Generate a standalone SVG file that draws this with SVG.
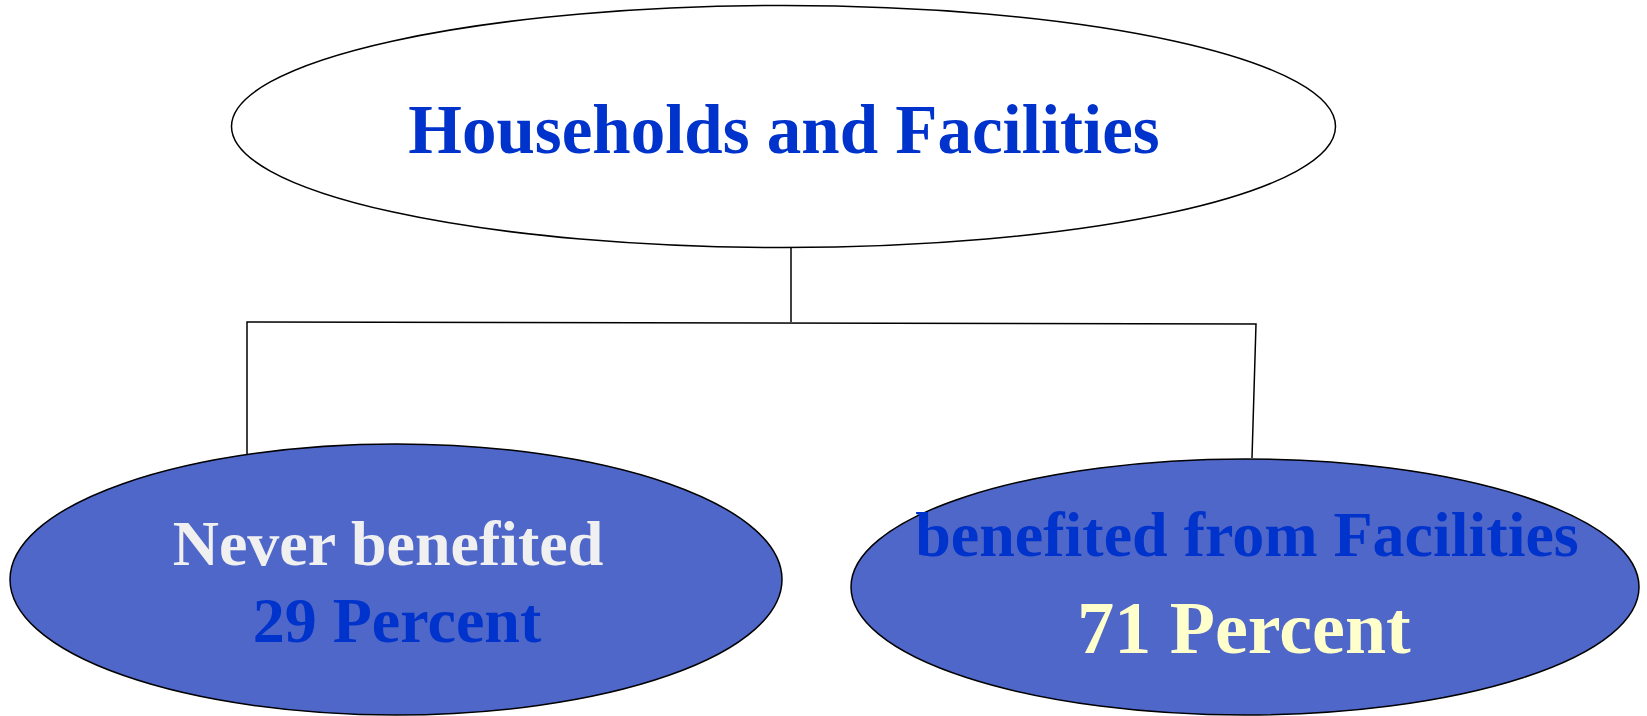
<svg xmlns="http://www.w3.org/2000/svg" width="1647" height="716" viewBox="0 0 1647 716">
  <style>
    .node { stroke: #000000; stroke-width: 1.5; }
    .root { fill: #FFFFFF; }
    .leaf { fill: #4F67C8; }
    .label { font-family: "Liberation Serif", "Times New Roman", serif; font-weight: bold; text-anchor: middle; }
    .blue { fill: #0033CC; }
    .white { fill: #F0F0F0; }
    .cream { fill: #FFFFCC; }
    .link { fill: none; stroke: #000000; stroke-width: 1.5; }
  </style>
  <rect width="1647" height="716" fill="#FFFFFF"/>

  <!-- tree connectors -->
  <g id="connectors">
    <polyline class="link" points="791,248 791,322"/>
    <polyline class="link" points="247,458 247,322 1256,324 1252,458"/>
  </g>

  <g id="node-households">
    <ellipse class="node root" cx="783.5" cy="126.5" rx="552" ry="121"/>
    <text class="label blue" x="784" y="153" font-size="69">Households and Facilities</text>
  </g>

  <g id="node-never">
    <ellipse class="node leaf" cx="396" cy="579.5" rx="386" ry="135.5"/>
    <text class="label white" x="388" y="565" font-size="64">Never benefited</text>
    <text class="label blue" x="397" y="642" font-size="64">29 Percent</text>
  </g>

  <g id="node-benefited">
    <ellipse class="node leaf" cx="1245" cy="587" rx="394" ry="128"/>
    <text class="label blue" x="1247" y="556" font-size="64">benefited from Facilities</text>
    <text class="label cream" x="1244" y="653" font-size="74">71 Percent</text>
  </g>
</svg>
